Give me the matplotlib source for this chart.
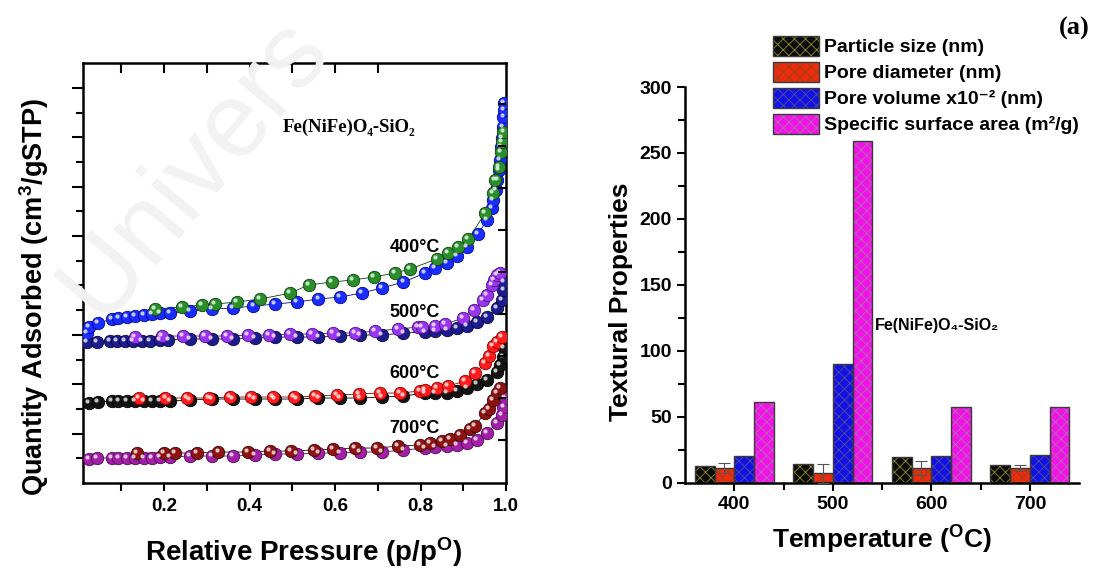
import numpy as np
import matplotlib
matplotlib.use("Agg")
import matplotlib.pyplot as plt
from matplotlib.patches import Patch
from matplotlib.transforms import offset_copy

plt.rcParams['font.family'] = ['Liberation Sans', 'DejaVu Sans']
plt.rcParams['font.weight'] = 'bold'
plt.rcParams['axes.labelweight'] = 'bold'
plt.rcParams['mathtext.fontset'] = 'custom'
plt.rcParams['mathtext.rm'] = 'Liberation Sans:bold'
plt.rcParams['mathtext.bf'] = 'Liberation Sans:bold'
plt.rcParams['mathtext.default'] = 'rm'
plt.rcParams['hatch.linewidth'] = 0.6

# ---- isotherm data (p/p0, quantity adsorbed in arbitrary units) ----
p400_ads = [0.019, 0.023, 0.046, 0.078, 0.093, 0.113, 0.132, 0.152, 0.171, 0.191, 0.214, 0.261, 0.312,
            0.362, 0.409, 0.460, 0.510, 0.561, 0.612, 0.662, 0.709, 0.760, 0.811, 0.834, 0.861, 0.885,
            0.908, 0.935, 0.955, 0.967, 0.970, 0.976, 0.980, 0.983, 0.986, 0.989, 0.991, 0.993, 0.994,
            0.995, 0.996]
q400_ads = [150, 156, 160, 164, 165, 166, 167, 168, 169, 170, 170, 172, 174, 175, 177, 179, 181, 184,
            186, 190, 195, 201, 210, 215, 220, 227, 236, 249, 263, 275, 283, 293, 303, 313, 323, 336,
            345, 356, 366, 373, 380]
p400_des = [0.179, 0.241, 0.288, 0.319, 0.370, 0.425, 0.495, 0.538, 0.592, 0.641, 0.690, 0.740, 0.775,
            0.838, 0.865, 0.888, 0.912, 0.951, 0.970, 0.974, 0.984, 0.989, 0.991, 0.994]
q400_des = [174, 176, 178, 179, 181, 184, 190, 198, 201, 203, 206, 210, 214, 224, 230, 236, 244, 270,
            290, 303, 316, 331, 341, 351]

p500_ads = [0.019, 0.043, 0.074, 0.089, 0.109, 0.128, 0.148, 0.167, 0.191, 0.210, 0.261, 0.312, 0.362,
            0.413, 0.460, 0.510, 0.561, 0.612, 0.658, 0.709, 0.760, 0.811, 0.834, 0.861, 0.885, 0.908,
            0.931, 0.955, 0.978, 0.990, 0.994, 0.996]
q500_ads = [141, 141, 142, 142, 142, 142, 142, 142, 143, 143, 144, 144, 144, 145, 146, 146, 146, 147,
            148, 148, 150, 151, 152, 153, 155, 157, 161, 166, 175, 183, 193, 201]
p500_des = [0.132, 0.195, 0.245, 0.296, 0.347, 0.397, 0.446, 0.495, 0.546, 0.596, 0.647, 0.694, 0.748,
            0.795, 0.803, 0.834, 0.857, 0.900, 0.924, 0.947, 0.955, 0.967, 0.971, 0.978, 0.986]
q500_des = [146, 147, 147, 147, 147, 148, 148, 149, 149, 150, 150, 152, 154, 156, 156, 157, 159, 165,
            173, 183, 188, 198, 203, 208, 210]

p600_ads = [0.023, 0.046, 0.078, 0.093, 0.113, 0.132, 0.152, 0.171, 0.191, 0.214, 0.261, 0.312, 0.362,
            0.413, 0.460, 0.510, 0.561, 0.612, 0.658, 0.709, 0.760, 0.811, 0.834, 0.861, 0.885, 0.908,
            0.931, 0.955, 0.978, 0.986, 0.992, 0.996]
q600_ads = [80, 81, 82, 82, 82, 82, 82, 82, 82, 82, 83, 84, 84, 84, 84, 84, 85, 85, 85, 86, 87, 90, 90,
            90, 92, 95, 99, 103, 111, 118, 126, 135]
p600_des = [0.140, 0.203, 0.253, 0.304, 0.355, 0.403, 0.454, 0.503, 0.553, 0.604, 0.655, 0.705, 0.752,
            0.799, 0.811, 0.838, 0.865, 0.904, 0.927, 0.951, 0.959, 0.970, 0.978, 0.990]
q600_des = [85, 85, 85, 85, 86, 86, 86, 86, 87, 88, 89, 90, 90, 92, 93, 95, 97, 102, 110, 120, 127, 137,
            141, 146]

p700_ads = [0.023, 0.042, 0.078, 0.093, 0.113, 0.132, 0.152, 0.171, 0.191, 0.214, 0.261, 0.312, 0.362,
            0.413, 0.460, 0.510, 0.561, 0.612, 0.658, 0.709, 0.760, 0.811, 0.834, 0.861, 0.885, 0.908,
            0.931, 0.955, 0.978, 0.990, 0.994, 0.997]
q700_ads = [24, 25, 25, 25, 25, 25, 25, 25, 26, 26, 27, 27, 27, 28, 29, 29, 30, 30, 31, 31, 33, 35, 36,
            37, 38, 40, 43, 50, 60, 68, 76, 85]
p700_des = [0.136, 0.199, 0.226, 0.277, 0.327, 0.397, 0.448, 0.497, 0.550, 0.596, 0.647, 0.698, 0.748,
            0.799, 0.822, 0.850, 0.869, 0.892, 0.916, 0.927, 0.951, 0.959, 0.970, 0.978, 0.986]
q700_des = [30, 30, 30, 30, 31, 31, 32, 32, 33, 34, 35, 35, 37, 38, 40, 42, 44, 48, 54, 57, 70, 74, 83,
            90, 95]

temp_labels = ['400°C', '500°C', '600°C', '700°C']

# ---- textural properties data ----
temps = ['400', '500', '600', '700']
particle_size = [12.5, 14, 19, 13]
pore_diameter = [11, 7, 11, 11]
pore_diameter_err = [3.5, 7, 5, 2]
pore_volume = [20, 90, 20, 20.5]
surface_area = [61, 259, 57, 57]
bar_labels = ['Particle size (nm)', 'Pore diameter (nm)',
              'Pore volume x10⁻² (nm)', 'Specific surface area (m²/g)']

fig = plt.figure(figsize=(11.01, 5.69), dpi=100)

# faint watermark
fig.text(195 / 1101, 1 - 168 / 569, 'Univers', fontsize=76, color='#f2f2f2', rotation=50,
         ha='center', va='center', zorder=0, fontweight='normal')

# ================= left: isotherms =================
ax1 = fig.add_axes([0.0754, 0.1511, 0.3842, 0.7381])
ax1.patch.set_alpha(0)


def balls(ax, x, y, color, edge):
    ax.plot(x, y, '-', color=edge, lw=0.6, zorder=2)
    ax.scatter(x, y, s=80, c=color, edgecolors=edge, linewidths=0.6, zorder=3)
    hl = offset_copy(ax.transData, fig=fig, x=-1.4, y=1.4, units='points')
    ax.scatter(x, y, s=9, c='white', alpha=0.75, linewidths=0, transform=hl, zorder=4)


balls(ax1, p700_ads, q700_ads, '#a21fa8', '#4d0a50')
balls(ax1, p700_des, q700_des, '#8e1212', '#3d0505')
balls(ax1, p600_ads, q600_ads, '#141414', '#000000')
balls(ax1, p600_des, q600_des, '#ff1c1c', '#8a0000')
balls(ax1, p500_ads, q500_ads, '#1c1c8e', '#08083d')
balls(ax1, p500_des, q500_des, '#9a35f0', '#4a1080')
balls(ax1, p400_ads, q400_ads, '#1a2cff', '#000a80')
balls(ax1, p400_des, q400_des, '#2a8f2a', '#0c420c')

ax1.set_xlim(0.01, 1.0)
ax1.set_ylim(0, 420)
ax1.set_xticks([0.2, 0.4, 0.6, 0.8, 1.0])
ax1.set_xticks(np.arange(0.1, 1.0, 0.2), minor=True)
ax1.set_yticks(np.arange(2, 17, 2) * 24.7)
ax1.set_yticks(np.arange(1, 17, 2) * 24.7, minor=True)
ax1.set_yticklabels([])
ax1.tick_params(axis='x', which='major', direction='out', length=6, width=1.5, labelsize=13.5, pad=5)
ax1.tick_params(axis='x', which='minor', direction='out', length=6, width=1.5)
ax1.tick_params(axis='y', which='major', direction='out', length=8, width=1.5)
ax1.tick_params(axis='y', which='minor', direction='out', length=5, width=1.5)
for s in ax1.spines.values():
    s.set_linewidth(1.8)

# inward ticks on the right and top frame edges
ax1r = ax1.twinx()
ax1r.set_ylim(0, 420)
ax1r.set_yticks(np.arange(43, 420, 42))
ax1r.set_yticklabels([])
ax1r.tick_params(axis='y', direction='in', length=6, width=1.5)
ax1t = ax1.twiny()
ax1t.set_xlim(0.01, 1.0)
ax1t.set_xticks(np.arange(0.1, 0.75, 0.1))
ax1t.set_xticklabels([])
ax1t.tick_params(axis='x', direction='in', length=7, width=1.5)
for a in (ax1r, ax1t):
    for s in a.spines.values():
        s.set_visible(False)

ax1.set_xlabel('Relative Pressure (p/p$^O$)', fontsize=20)
ax1.xaxis.set_label_coords(0.521, -0.124)
ax1.set_ylabel('Quantity Adsorbed (cm$^3$/gSTP)', fontsize=19.5)
ax1.yaxis.set_label_coords(-0.075, 0.442)

for lbl, yy in zip(temp_labels, [236, 171, 110, 55]):
    ax1.text(0.786, yy, lbl, fontsize=13, ha='center', va='center', zorder=5)
ax1.text(0.633, 356, 'Fe(NiFe)O₄-SiO₂', fontsize=13.5, ha='center', va='center',
         family=['Liberation Serif', 'DejaVu Serif'])

# ================= right: textural properties =================
ax2 = fig.add_axes([0.6222, 0.152, 0.3579, 0.695])
ax2.patch.set_alpha(0)
x = np.arange(1, len(temps) + 1)
w = 0.2
series = [particle_size, pore_diameter, pore_volume, surface_area]
fills = ['#0c0c0c', '#f02a0c', '#1212e6', '#f012e6']
hatch_cols = ['#8a8a28', '#8a4a20', '#505090', '#b070b0']
handles = []
for i, (vals, fc, hc) in enumerate(zip(series, fills, hatch_cols)):
    pos = x + (i - 1.5) * w
    ax2.bar(pos, vals, w, color=fc, edgecolor=hc, linewidth=0, hatch='xxx', zorder=2)
    ax2.bar(pos, vals, w, fill=False, edgecolor='#3a3a3a', linewidth=1.0, zorder=3)
    if i == 1:
        ax2.errorbar(pos, vals, yerr=pore_diameter_err, fmt='none', ecolor='#555555',
                     elinewidth=0.8, capsize=4, capthick=0.8, zorder=4)
    handles.append((Patch(facecolor=fc, edgecolor=hc, linewidth=0, hatch='xxx'),
                    Patch(fill=False, edgecolor='#3a3a3a', linewidth=1.0)))

ax2.set_xlim(0.5, 4.5)
ax2.set_ylim(0, 300)
ax2.set_xticks(x)
ax2.set_xticklabels(temps)
ax2.set_xticks([1.5, 2.5, 3.5], minor=True)
ax2.set_yticks(np.arange(0, 301, 50))
ax2.set_yticks(np.arange(25, 300, 50), minor=True)
ax2.tick_params(axis='both', which='major', direction='out', length=6, width=1.5, labelsize=14)
ax2.tick_params(axis='both', which='minor', direction='out', length=5, width=1.5)
ax2.spines['top'].set_visible(False)
ax2.spines['right'].set_visible(False)
for s in ['left', 'bottom']:
    ax2.spines[s].set_linewidth(1.8)
ax2.set_xlabel('Temperature ($^O$C)', fontsize=19)
ax2.xaxis.set_label_coords(0.499, -0.105)
ax2.set_ylabel('Textural Properties', fontsize=19)
ax2.yaxis.set_label_coords(-0.132, 0.458)
ax2.text(0.64, 0.398, 'Fe(NiFe)O₄-SiO₂', transform=ax2.transAxes, fontsize=11.5,
         ha='center', va='center', family=['Liberation Sans', 'DejaVu Sans'])

fig.legend(handles, bar_labels, loc='upper left', bbox_to_anchor=(773 / 1101, 1 - 36 / 569),
           frameon=False, fontsize=14, handlelength=2.37, handleheight=1.19,
           handletextpad=0.25, labelspacing=0.28, borderpad=0, borderaxespad=0)

fig.text(1074 / 1101, 1 - 28 / 569, '(a)', fontsize=19, ha='center', va='center',
         family=['Liberation Serif', 'DejaVu Serif'])

fig.savefig('out.png', dpi=100)
